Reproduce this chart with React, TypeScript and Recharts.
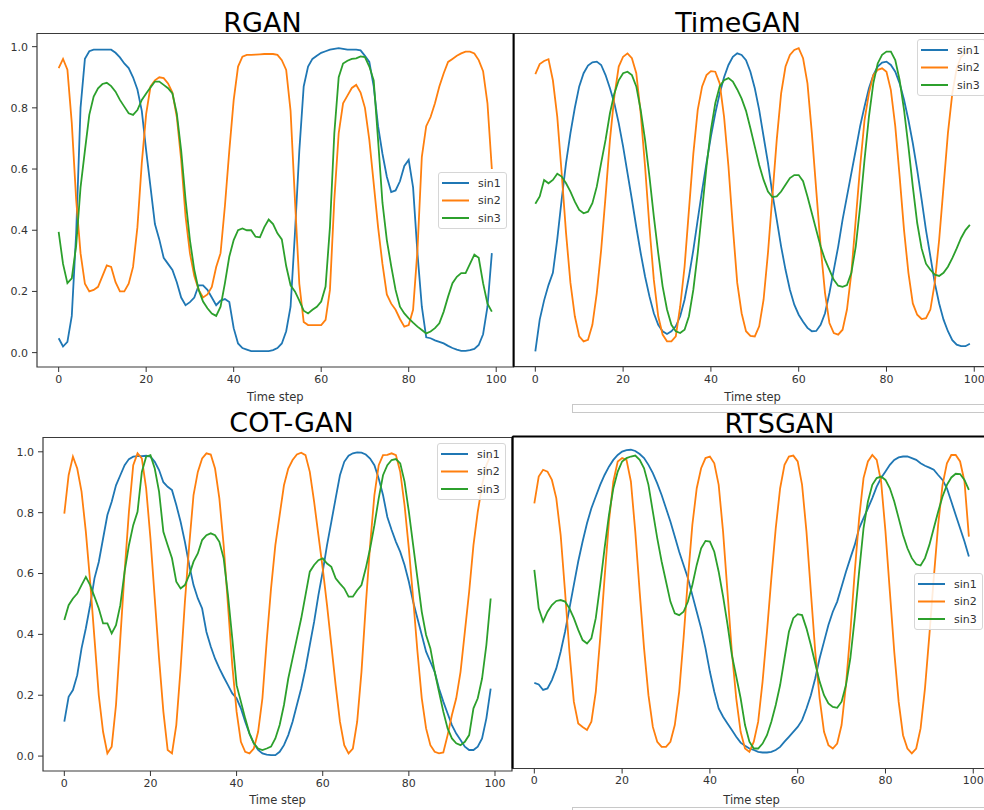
import React from "react";
import { LineChart, Line, XAxis, YAxis, Legend, ReferenceArea, ReferenceLine } from "recharts";

// time steps 0..99 shared by every panel
const steps = Array.from({ length: 100 }, (_, i) => i);
const xTicks = [0, 20, 40, 60, 80, 100];
const yTicks = [0, 0.2, 0.4, 0.6, 0.8, 1.0];
const seriesNames = ["sin1", "sin2", "sin3"];
const colors = ["#1f77b4", "#ff7f0e", "#2ca02c"];

// RGAN
const rganSin1 = [
  0.047, 0.02, 0.035, 0.12, 0.39, 0.8, 0.96, 0.985, 0.99, 0.99,
  0.99, 0.99, 0.99, 0.98, 0.965, 0.945, 0.93, 0.9, 0.86, 0.79,
  0.66, 0.54, 0.42, 0.37, 0.31, 0.29, 0.27, 0.23, 0.18, 0.155,
  0.165, 0.18, 0.22, 0.22, 0.205, 0.18, 0.155, 0.17, 0.175, 0.165,
  0.08, 0.03, 0.015, 0.01, 0.005, 0.005, 0.005, 0.005, 0.005, 0.008,
  0.015, 0.03, 0.07, 0.15, 0.39, 0.66, 0.87, 0.935, 0.96, 0.97,
  0.98, 0.985, 0.99, 0.993, 0.995, 0.993, 0.99, 0.99, 0.99, 0.988,
  0.97, 0.95, 0.87, 0.74, 0.65, 0.575, 0.525, 0.53, 0.56, 0.61,
  0.63, 0.54, 0.325, 0.15, 0.05, 0.047, 0.04, 0.035, 0.03, 0.022,
  0.015, 0.01, 0.006, 0.006, 0.008, 0.012, 0.025, 0.06, 0.15, 0.325,
];
const rganSin2 = [
  0.93, 0.96, 0.925, 0.75, 0.5, 0.325, 0.225, 0.2, 0.205, 0.215,
  0.25, 0.285, 0.28, 0.23, 0.2, 0.2, 0.225, 0.28, 0.41, 0.62,
  0.78, 0.87, 0.89, 0.9, 0.897, 0.88, 0.85, 0.77, 0.63, 0.445,
  0.325, 0.25, 0.205, 0.18, 0.19, 0.215, 0.28, 0.325, 0.48, 0.66,
  0.825, 0.935, 0.967, 0.973, 0.973, 0.974, 0.975, 0.976, 0.976, 0.976,
  0.973, 0.956, 0.924, 0.79, 0.5, 0.225, 0.1, 0.09, 0.09, 0.09,
  0.09, 0.107, 0.205, 0.5, 0.717, 0.815, 0.84, 0.865, 0.875, 0.85,
  0.8, 0.695, 0.553, 0.41, 0.29, 0.19, 0.16, 0.14, 0.11, 0.085,
  0.09, 0.14, 0.335, 0.64, 0.74, 0.77, 0.815, 0.87, 0.913, 0.95,
  0.96, 0.97, 0.978, 0.984, 0.984, 0.978, 0.956, 0.92, 0.815, 0.6,
];
const rganSin3 = [
  0.395, 0.29, 0.227, 0.243, 0.35, 0.54, 0.66, 0.777, 0.837, 0.864,
  0.878, 0.882, 0.871, 0.853, 0.826, 0.804, 0.782, 0.777, 0.793, 0.826,
  0.847, 0.867, 0.886, 0.886, 0.875, 0.864, 0.847, 0.782, 0.66, 0.5,
  0.368, 0.27, 0.205, 0.167, 0.145, 0.128, 0.12, 0.15, 0.227, 0.314,
  0.368, 0.4, 0.406, 0.4, 0.4, 0.379, 0.377, 0.41, 0.435, 0.42,
  0.39, 0.37, 0.283, 0.22, 0.2, 0.17, 0.137, 0.128, 0.14, 0.15,
  0.167, 0.216, 0.41, 0.717, 0.9, 0.945, 0.954, 0.96, 0.962, 0.968,
  0.966, 0.935, 0.89, 0.695, 0.49, 0.368, 0.283, 0.205, 0.15, 0.128,
  0.112, 0.098, 0.085, 0.074, 0.063, 0.069, 0.08, 0.096, 0.134, 0.183,
  0.227, 0.248, 0.26, 0.26, 0.29, 0.32, 0.31, 0.227, 0.16, 0.134,
];

// TimeGAN
const timeganSin1 = [
  0.003, 0.107, 0.17, 0.22, 0.26, 0.37, 0.5, 0.62, 0.717, 0.8,
  0.87, 0.913, 0.938, 0.949, 0.951, 0.94, 0.907, 0.864, 0.815, 0.75,
  0.673, 0.586, 0.5, 0.41, 0.325, 0.248, 0.183, 0.128, 0.09, 0.069,
  0.06, 0.069, 0.085, 0.118, 0.172, 0.248, 0.335, 0.434, 0.53, 0.62,
  0.706, 0.782, 0.847, 0.9, 0.94, 0.967, 0.978, 0.973, 0.956, 0.918,
  0.864, 0.793, 0.706, 0.62, 0.52, 0.434, 0.346, 0.27, 0.205, 0.156,
  0.123, 0.1, 0.08, 0.069, 0.07, 0.09, 0.128, 0.194, 0.27, 0.346,
  0.434, 0.51, 0.586, 0.662, 0.74, 0.804, 0.864, 0.907, 0.935, 0.948,
  0.951, 0.94, 0.918, 0.88, 0.826, 0.76, 0.684, 0.597, 0.5, 0.4,
  0.314, 0.227, 0.16, 0.107, 0.069, 0.04, 0.025, 0.02, 0.02, 0.028,
];
const timeganSin2 = [
  0.91, 0.943, 0.953, 0.959, 0.89, 0.77, 0.586, 0.39, 0.227, 0.118,
  0.052, 0.036, 0.041, 0.09, 0.194, 0.335, 0.51, 0.695, 0.837, 0.935,
  0.967, 0.978, 0.962, 0.913, 0.782, 0.608, 0.41, 0.237, 0.118, 0.058,
  0.036, 0.036, 0.052, 0.15, 0.28, 0.466, 0.65, 0.793, 0.87, 0.907,
  0.92, 0.918, 0.88, 0.77, 0.608, 0.41, 0.227, 0.128, 0.069, 0.054,
  0.052, 0.085, 0.172, 0.325, 0.51, 0.695, 0.847, 0.935, 0.973, 0.989,
  0.995, 0.962, 0.88, 0.717, 0.53, 0.346, 0.194, 0.096, 0.063, 0.058,
  0.074, 0.14, 0.26, 0.434, 0.608, 0.76, 0.847, 0.907, 0.924, 0.929,
  0.918, 0.858, 0.74, 0.575, 0.4, 0.26, 0.16, 0.123, 0.109, 0.112,
  0.14, 0.227, 0.368, 0.542, 0.717, 0.847, 0.929, 0.967, 0.978, 0.984,
];
const timeganSin3 = [
  0.486, 0.51, 0.564, 0.553, 0.564, 0.584, 0.575, 0.553, 0.526, 0.493,
  0.466, 0.455, 0.46, 0.488, 0.542, 0.62, 0.695, 0.782, 0.847, 0.89,
  0.913, 0.918, 0.907, 0.87, 0.793, 0.695, 0.575, 0.444, 0.325, 0.216,
  0.14, 0.09, 0.069, 0.063, 0.074, 0.118, 0.205, 0.325, 0.466, 0.608,
  0.728, 0.815, 0.87, 0.89, 0.897, 0.886, 0.86, 0.83, 0.79, 0.733,
  0.673, 0.613, 0.564, 0.526, 0.508, 0.51, 0.526, 0.548, 0.57, 0.58,
  0.58, 0.56, 0.51, 0.455, 0.4, 0.346, 0.303, 0.27, 0.237, 0.218,
  0.214, 0.22, 0.26, 0.346, 0.477, 0.63, 0.77, 0.88, 0.945, 0.973,
  0.984, 0.984, 0.956, 0.89, 0.793, 0.673, 0.542, 0.423, 0.34, 0.29,
  0.27, 0.254, 0.25, 0.26, 0.28, 0.308, 0.34, 0.374, 0.4, 0.417,
];

// COT-GAN
const cotganSin1 = [
  0.113, 0.195, 0.217, 0.266, 0.354, 0.42, 0.496, 0.584, 0.638, 0.715,
  0.792, 0.836, 0.89, 0.923, 0.956, 0.976, 0.984, 0.986, 0.986, 0.987,
  0.984, 0.967, 0.94, 0.9, 0.885, 0.874, 0.825, 0.77, 0.704, 0.628,
  0.562, 0.518, 0.485, 0.408, 0.36, 0.32, 0.288, 0.26, 0.233, 0.206,
  0.19, 0.157, 0.113, 0.074, 0.042, 0.02, 0.009, 0.005, 0.003, 0.003,
  0.014, 0.036, 0.069, 0.113, 0.168, 0.222, 0.288, 0.365, 0.441, 0.529,
  0.606, 0.693, 0.77, 0.847, 0.923, 0.967, 0.987, 0.995, 0.998, 0.997,
  0.991, 0.978, 0.956, 0.912, 0.858, 0.786, 0.743, 0.704, 0.671, 0.628,
  0.573, 0.507, 0.452, 0.398, 0.343, 0.31, 0.277, 0.222, 0.179, 0.14,
  0.102, 0.074, 0.053, 0.031, 0.02, 0.02, 0.031, 0.058, 0.124, 0.222,
];
const cotganSin2 = [
  0.797, 0.923, 0.984, 0.945, 0.869, 0.737, 0.573, 0.387, 0.2, 0.08,
  0.009, 0.031, 0.168, 0.387, 0.606, 0.803, 0.956, 0.995, 0.978, 0.88,
  0.715, 0.518, 0.321, 0.146, 0.02, 0.009, 0.102, 0.288, 0.507, 0.693,
  0.858, 0.934, 0.978, 0.995, 0.991, 0.945, 0.847, 0.693, 0.496, 0.299,
  0.146, 0.047, 0.014, 0.009, 0.025, 0.08, 0.19, 0.38, 0.551, 0.693,
  0.792, 0.89, 0.945, 0.973, 0.991, 0.997, 0.989, 0.934, 0.836, 0.726,
  0.617, 0.496, 0.365, 0.233, 0.113, 0.036, 0.009, 0.025, 0.113, 0.277,
  0.496, 0.693, 0.858, 0.956, 0.989, 0.99, 0.995, 0.989, 0.934, 0.825,
  0.682, 0.518, 0.343, 0.19, 0.091, 0.036, 0.014, 0.009, 0.012, 0.069,
  0.135, 0.19, 0.277, 0.408, 0.54, 0.693, 0.803, 0.89, 0.956, 0.989,
];
const cotganSin3 = [
  0.447, 0.496, 0.518, 0.534, 0.562, 0.589, 0.562, 0.524, 0.485, 0.436,
  0.436, 0.403, 0.43, 0.496, 0.606, 0.693, 0.759, 0.803, 0.934, 0.984,
  0.989, 0.945, 0.869, 0.737, 0.693, 0.65, 0.573, 0.551, 0.562, 0.595,
  0.639, 0.666, 0.71, 0.726, 0.732, 0.726, 0.704, 0.65, 0.529, 0.387,
  0.233, 0.179, 0.124, 0.074, 0.042, 0.025, 0.02, 0.025, 0.031, 0.058,
  0.102, 0.168, 0.255, 0.321, 0.387, 0.452, 0.529, 0.606, 0.628, 0.644,
  0.65, 0.633, 0.622, 0.584, 0.567, 0.551, 0.524, 0.524, 0.545, 0.562,
  0.617, 0.682, 0.759, 0.847, 0.923, 0.956, 0.973, 0.976, 0.962, 0.902,
  0.803, 0.693, 0.584, 0.474, 0.398, 0.354, 0.277, 0.211, 0.146, 0.091,
  0.058, 0.042, 0.036, 0.047, 0.069, 0.157, 0.19, 0.255, 0.365, 0.518,
];

// RTSGAN
const rtsganSin1 = [
  0.239, 0.234, 0.216, 0.221, 0.248, 0.286, 0.34, 0.405, 0.481, 0.557,
  0.633, 0.698, 0.757, 0.806, 0.844, 0.882, 0.914, 0.941, 0.963, 0.979,
  0.99, 0.995, 0.996, 0.992, 0.982, 0.969, 0.947, 0.92, 0.887, 0.849,
  0.806, 0.763, 0.714, 0.665, 0.622, 0.579, 0.524, 0.47, 0.416, 0.351,
  0.275, 0.21, 0.156, 0.129, 0.107, 0.086, 0.064, 0.045, 0.035, 0.026,
  0.021, 0.015, 0.013, 0.013, 0.015, 0.021, 0.031, 0.048, 0.064, 0.08,
  0.096, 0.118, 0.156, 0.199, 0.254, 0.319, 0.373, 0.427, 0.47, 0.503,
  0.551, 0.6, 0.644, 0.687, 0.741, 0.774, 0.806, 0.839, 0.876, 0.904,
  0.925, 0.947, 0.963, 0.971, 0.974, 0.974, 0.969, 0.963, 0.952, 0.944,
  0.938, 0.931, 0.914, 0.898, 0.871, 0.828, 0.784, 0.741, 0.698, 0.649,
];
const rtsganSin2 = [
  0.822, 0.909, 0.931, 0.925, 0.898, 0.839, 0.719, 0.535, 0.34, 0.178,
  0.107, 0.096, 0.086, 0.113, 0.21, 0.384, 0.579, 0.763, 0.893, 0.958,
  0.969, 0.963, 0.893, 0.73, 0.535, 0.351, 0.199, 0.096, 0.048, 0.031,
  0.031, 0.048, 0.102, 0.21, 0.384, 0.579, 0.752, 0.871, 0.936, 0.969,
  0.974, 0.952, 0.882, 0.73, 0.535, 0.34, 0.189, 0.08, 0.026, 0.015,
  0.048, 0.113, 0.243, 0.405, 0.579, 0.741, 0.871, 0.947, 0.974, 0.977,
  0.958, 0.882, 0.73, 0.535, 0.34, 0.189, 0.08, 0.037, 0.026, 0.042,
  0.102, 0.232, 0.405, 0.6, 0.774, 0.904, 0.958, 0.979, 0.963, 0.893,
  0.73, 0.535, 0.34, 0.178, 0.069, 0.026, 0.01, 0.026, 0.091, 0.221,
  0.394, 0.579, 0.752, 0.882, 0.952, 0.979, 0.979, 0.958, 0.893, 0.714,
];
const rtsganSin3 = [
  0.606, 0.481, 0.438, 0.47, 0.492, 0.505, 0.508, 0.503, 0.481, 0.449,
  0.411, 0.378, 0.367, 0.384, 0.449, 0.557, 0.676, 0.784, 0.871, 0.925,
  0.958, 0.969, 0.974, 0.977, 0.963, 0.936, 0.882, 0.795, 0.709, 0.633,
  0.568, 0.503, 0.465, 0.459, 0.47, 0.503, 0.557, 0.622, 0.676, 0.7,
  0.698, 0.665, 0.6, 0.52, 0.43, 0.33, 0.26, 0.189, 0.102, 0.048,
  0.026, 0.026, 0.042, 0.069, 0.113, 0.167, 0.232, 0.319, 0.405, 0.449,
  0.462, 0.459, 0.416, 0.362, 0.302, 0.243, 0.199, 0.172, 0.161, 0.158,
  0.178, 0.232, 0.319, 0.449, 0.6, 0.741, 0.828, 0.882, 0.904, 0.909,
  0.898, 0.871, 0.828, 0.774, 0.719, 0.676, 0.644, 0.624, 0.62, 0.644,
  0.687, 0.741, 0.795, 0.844, 0.882, 0.906, 0.918, 0.917, 0.898, 0.866,
];

const FONT = "'DejaVu Sans', sans-serif";
const X_DOMAIN = [-4.95, 103.95];

function makeRows(a: number[], b: number[], c: number[]) {
  return steps.map((t, i) => ({ t, sin1: a[i], sin2: b[i], sin3: c[i] }));
}

function LegendContent() {
  return (
    <div
      style={{
        width: 69,
        height: 57,
        boxSizing: "border-box",
        border: "1px solid #d6d6d6",
        borderRadius: 3,
        background: "rgba(255,255,255,0.85)",
      }}
    >
      <svg width={67} height={55} style={{ display: "block" }}>
        {seriesNames.map((name, i) => (
          <g key={name}>
            <line x1={3} x2={30} y1={10 + i * 17.5} y2={10 + i * 17.5} stroke={colors[i]} strokeWidth={2} />
            <text x={39} y={10 + i * 17.5} dy="0.36em" fontSize={11} fill="#333" fontFamily={FONT}>
              {name}
            </text>
          </g>
        ))}
      </svg>
    </div>
  );
}

type PanelProps = {
  left: number;
  top: number;
  width: number;
  height: number;
  margin: { top: number; right: number; bottom: number; left: number };
  yDomain: number[];
  showY: boolean;
  yWidth?: number;
  xHeight: number;
  labelOffset: number;
  legendAt: { left: number; top: number };
  dark?: { left?: boolean; top?: boolean };
  rows: { t: number; sin1: number; sin2: number; sin3: number }[];
};

function Panel(p: PanelProps) {
  const tickStyle = { fontSize: 11, fill: "#333", fontFamily: FONT };
  return (
    <div style={{ position: "absolute", left: p.left, top: p.top }}>
      <LineChart width={p.width} height={p.height} data={p.rows} margin={p.margin}>
        <XAxis
          dataKey="t"
          type="number"
          domain={X_DOMAIN}
          ticks={xTicks}
          allowDataOverflow
          axisLine={false}
          tickLine={{ stroke: "#333" }}
          tickSize={5}
          tickMargin={3}
          tick={tickStyle}
          height={p.xHeight}
          label={{
            value: "Time step",
            position: "insideBottom",
            offset: p.labelOffset,
            fontSize: 11.5,
            fill: "#333",
            fontFamily: FONT,
          }}
        />
        <YAxis
          type="number"
          domain={p.yDomain}
          ticks={yTicks}
          allowDataOverflow
          hide={!p.showY}
          width={p.yWidth}
          axisLine={false}
          tickLine={{ stroke: "#333" }}
          tickSize={5}
          tickMargin={4}
          tick={tickStyle}
          tickFormatter={(v: number) => v.toFixed(1)}
        />
        {seriesNames.map((name, i) => (
          <Line
            key={name}
            type="linear"
            dataKey={name}
            stroke={colors[i]}
            strokeWidth={1.8}
            dot={false}
            isAnimationActive={false}
          />
        ))}
        <ReferenceArea
          x1={X_DOMAIN[0]}
          x2={X_DOMAIN[1]}
          y1={p.yDomain[0]}
          y2={p.yDomain[1]}
          fill="none"
          fillOpacity={0}
          stroke="#3a3a3a"
          strokeWidth={1.2}
        />
        {p.dark?.left && <ReferenceLine x={X_DOMAIN[0]} stroke="#000" strokeWidth={2} />}
        {p.dark?.top && <ReferenceLine y={p.yDomain[1]} stroke="#000" strokeWidth={2} />}
        <Legend
          layout="horizontal"
          align="center"
          verticalAlign="middle"
          content={() => <LegendContent />}
          wrapperStyle={{ left: p.legendAt.left, top: p.legendAt.top, width: 69 }}
        />
      </LineChart>
    </div>
  );
}

const titles = [
  { text: "RGAN", x: 262.5, y: 8.5 },
  { text: "TimeGAN", x: 738, y: 8.5 },
  { text: "COT-GAN", x: 291.5, y: 408.5 },
  { text: "RTSGAN", x: 779.5, y: 410 },
];

export default function App() {
  return (
    <div
      style={{
        position: "absolute",
        left: 0,
        top: 0,
        width: 984,
        height: 810,
        overflow: "hidden",
        background: "#fff",
        fontFamily: FONT,
      }}
    >
      <Panel
        left={0}
        top={0}
        width={520}
        height={410}
        margin={{ top: 33.5, right: 6.5, bottom: 7, left: 0 }}
        yDomain={[-0.047, 1.043]}
        showY
        yWidth={37}
        xHeight={36}
        labelOffset={2.5}
        legendAt={{ left: 438.3, top: 171.7 }}
        rows={makeRows(rganSin1, rganSin2, rganSin3)}
      />
      <Panel
        left={500}
        top={0}
        width={500}
        height={410}
        margin={{ top: 33.5, right: 8.4, bottom: 7.3, left: 13.6 }}
        yDomain={[-0.047, 1.043]}
        showY={false}
        xHeight={36}
        labelOffset={1.7}
        legendAt={{ left: 416.7, top: 39 }}
        dark={{ left: true }}
        rows={makeRows(timeganSin1, timeganSin2, timeganSin3)}
      />
      <Panel
        left={0}
        top={410}
        width={520}
        height={400}
        margin={{ top: 27.5, right: 8, bottom: 3, left: 0 }}
        yDomain={[-0.049, 1.047]}
        showY
        yWidth={43}
        xHeight={36}
        labelOffset={3.5}
        legendAt={{ left: 436.7, top: 33.3 }}
        rows={makeRows(cotganSin1, cotganSin2, cotganSin3)}
      />
      <Panel
        left={500}
        top={410}
        width={500}
        height={400}
        margin={{ top: 26.5, right: 9.4, bottom: 3.5, left: 12.6 }}
        yDomain={[-0.039, 1.039]}
        showY={false}
        xHeight={38}
        labelOffset={3}
        legendAt={{ left: 414.3, top: 163.3 }}
        dark={{ left: true, top: true }}
        rows={makeRows(rtsganSin1, rtsganSin2, rtsganSin3)}
      />
      {/* thin grey boxes peeking between the lower and upper images */}
      <div
        style={{
          position: "absolute",
          left: 571.5,
          top: 404,
          width: 430,
          height: 7,
          border: "1px solid #c8c8c8",
          background: "#fff",
        }}
      />
      <div
        style={{
          position: "absolute",
          left: 571.5,
          top: 806.5,
          width: 430,
          height: 10,
          border: "1px solid #c8c8c8",
          background: "#fff",
        }}
      />
      {titles.map((t) => (
        <div
          key={t.text}
          style={{
            position: "absolute",
            left: t.x,
            top: t.y,
            transform: "translateX(-50%)",
            fontSize: 27,
            lineHeight: "27px",
            color: "#000",
            whiteSpace: "nowrap",
          }}
        >
          {t.text}
        </div>
      ))}
    </div>
  );
}
